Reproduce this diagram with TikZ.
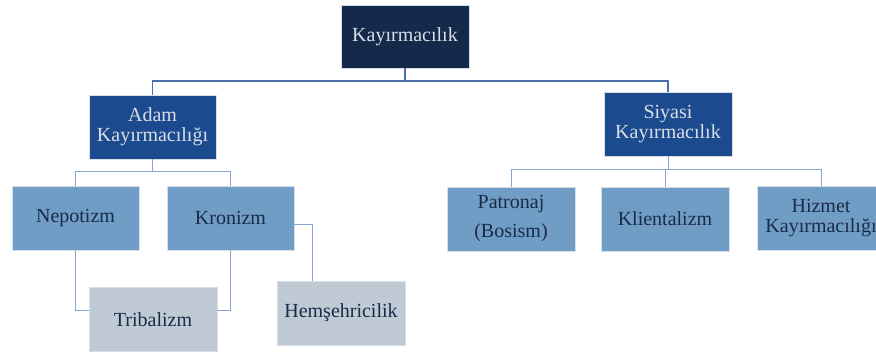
\documentclass[tikz,border=0pt]{standalone}
\usepackage{fontspec}
\setmainfont{Liberation Serif}
\definecolor{cnavy}{HTML}{142A4B}
\definecolor{cblue}{HTML}{1C4A8E}
\definecolor{clight}{HTML}{6F9DC6}
\definecolor{cgray}{HTML}{BFCAD4}
\definecolor{ctxtl}{HTML}{D9DEE7}
\definecolor{ctxtd}{HTML}{1A2B48}
\definecolor{cline}{HTML}{4A6FAB}
\definecolor{clinel}{HTML}{85A6D0}
\definecolor{cbord}{HTML}{D6DEE9}
\begin{document}
\begin{tikzpicture}[x=1pt,y=-1pt,
  box/.style={draw=cbord,line width=0.8pt,minimum width=127pt,minimum height=64pt,
    inner sep=0pt,outer sep=0pt,align=center,
    font=\fontsize{20}{20}\selectfont},
  topbox/.style={box,fill=cnavy,text=ctxtl},
  midbox/.style={box,fill=cblue,text=ctxtl},
  lowbox/.style={box,fill=clight,text=ctxtd},
  graybox/.style={box,fill=cgray,text=ctxtd},
  conn/.style={draw=cline,line width=1.2pt},
  connl/.style={draw=clinel,line width=1pt}]
\useasboundingbox (0,0) rectangle (876,352);
\fill[white] (0,0) rectangle (876,352);
\node[topbox,minimum width=128pt,minimum height=63pt] (top) at (405,36.5) {Kayırmacılık};
\node[midbox] (adam) at (152.5,127) {Adam\\Kayırmacılığı};
\node[midbox,minimum width=128pt] (siy) at (668,124) {Siyasi\\Kayırmacılık};
\node[lowbox] (nep) at (75.5,218) {Nepotizm};
\node[lowbox] (kron) at (230.5,218) {Kronizm};
\node[graybox,minimum width=128pt] (trib) at (153,319.5) {Tribalizm};
\node[graybox,minimum width=128pt] (hem) at (341,313) {Hemşehricilik};
\node[lowbox,minimum width=128pt] (pat) at (511,219) {Patronaj\\[9pt](Bosism)};
\node[lowbox,minimum width=128pt] (kli) at (665,219) {Klientalizm};
\node[lowbox,minimum width=128pt] (hiz) at (821,218) {Hizmet\\Kayırmacılığı};
\draw[conn] (top.south) -- ++(0,13) -| (adam.north);
\draw[conn] (top.south) -- ++(0,13) -| (siy.north);
\draw[connl] (adam.south) -- ++(0,13) -| (nep.north);
\draw[connl] (adam.south) -- ++(0,13) -| (kron.north);
\draw[connl] (siy.south) -- ++(0,14) -| (pat.north);
\draw[connl] (siy.south) -- ++(0,14) -| (kli.north);
\draw[connl] (siy.south) -- ++(0,14) -| (hiz.north);
\draw[connl] (nep.south) |- ([yshift=9pt]trib.west);
\draw[connl] (kron.south) |- ([yshift=9pt]trib.east);
\draw[connl] ([yshift=-7pt]kron.east) -| ([xshift=-29pt]hem.north);
\end{tikzpicture}
\end{document}
